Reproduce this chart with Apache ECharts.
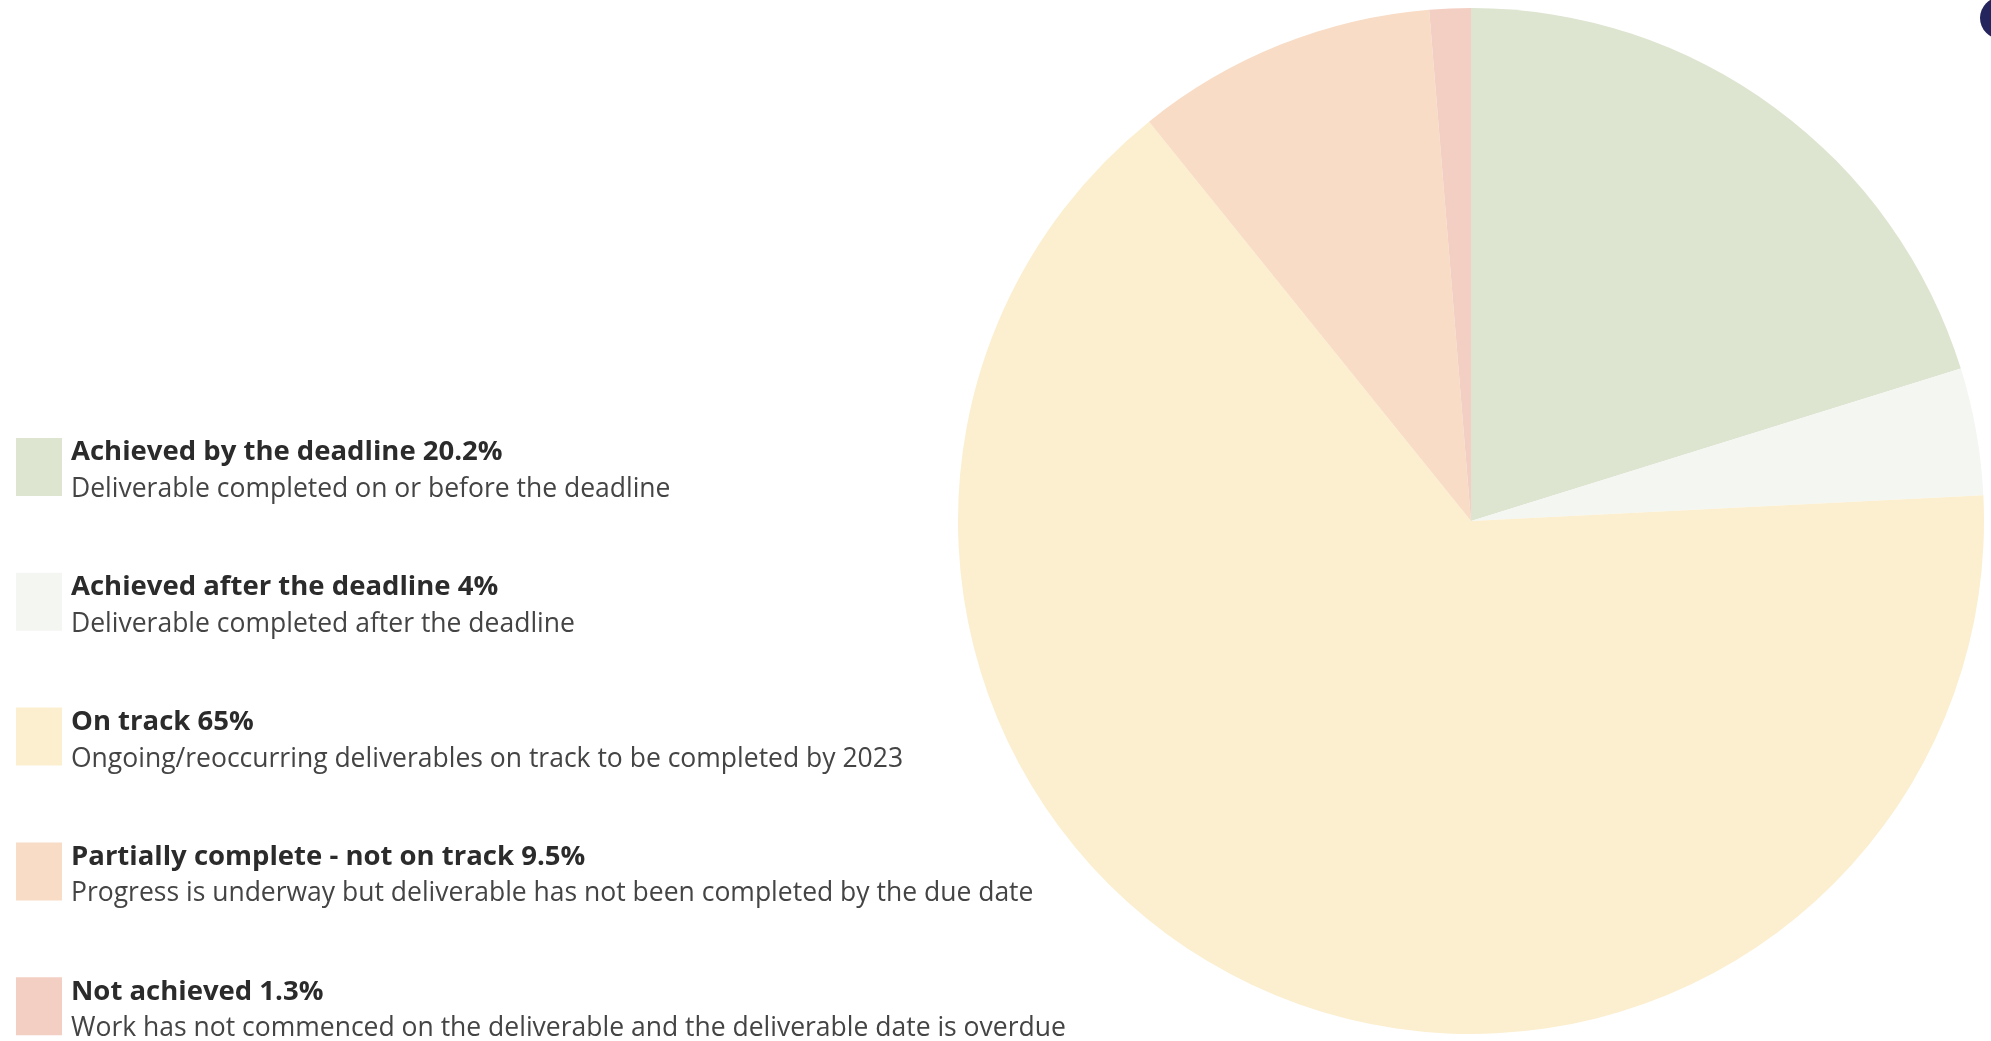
<!DOCTYPE html>
<html><head><meta charset="utf-8">
<script src="https://cdn.jsdelivr.net/npm/echarts@6/dist/echarts.min.js"></script>
<style>html,body{margin:0;padding:0;background:#fff}#c{width:1991px;height:1041px}</style>
</head><body><div id="c"></div>
<script>
const categories = ["Achieved by the deadline","Achieved after the deadline","On track","Partially complete - not on track","Not achieved"];
const values = [20.2, 4, 65, 9.5, 1.3];
const descriptions = [
  "Deliverable completed on or before the deadline",
  "Deliverable completed after the deadline",
  "Ongoing/reoccurring deliverables on track to be completed by 2023",
  "Progress is underway but deliverable has not been completed by the due date",
  "Work has not commenced on the deliverable and the deliverable date is overdue"
];
const colors = ["#dde4cf","#f4f6f2","#fcefd0","#f8dcc5","#f3cfc3"];

const chart = echarts.init(document.getElementById('c'));
chart.setOption({
  animation:false,
  color: colors,
  legend:{
    orient:'vertical', left:11, top:422, height:700, width:1100,
    itemWidth:46, itemHeight:58, itemGap:58.8,
    icon:'rect', selectedMode:false,
    data: categories,
    formatter: function(name){
      const i = categories.indexOf(name);
      return '{p| }\n{t|' + name + ' ' + values[i] + '%}\n{s|' + descriptions[i] + '}';
    },
    textStyle:{
      padding:[0,0,0,4],
      rich:{
        p:{fontSize:6, lineHeight:8},
        t:{fontFamily:'Open Sans', fontWeight:'bold', fontSize:27.5, color:'#2b2b2b', lineHeight:37},
        s:{fontFamily:'Open Sans', fontWeight:'normal', fontSize:26.5, color:'#444444', lineHeight:37}
      }
    }
  },
  graphic:[{type:'circle', shape:{cx:2001, cy:18, r:21}, style:{fill:'#25255e'}}],
  series:[{
    type:'pie', center:[1471,521], radius:513, startAngle:90, clockwise:true,
    label:{show:false}, labelLine:{show:false},
    itemStyle:{borderWidth:0},
    emphasis:{disabled:true},
    data: categories.map((c,i)=>({name:c, value:values[i]}))
  }]
});
</script></body></html>
